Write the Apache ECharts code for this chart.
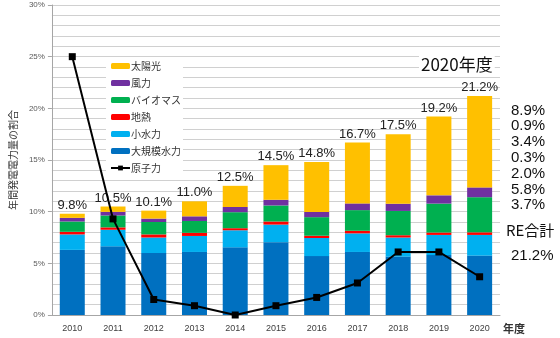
<!DOCTYPE html>
<html>
<head>
<meta charset="utf-8">
<script src="https://cdn.jsdelivr.net/npm/echarts@6/dist/echarts.min.js"></script>
<style>html,body{margin:0;padding:0;background:#fff;}#c{width:560px;height:338px;}</style>
</head>
<body>
<div id="c"></div>
<script>
const years = ['2010','2011','2012','2013','2014','2015','2016','2017','2018','2019','2020'];
const largeHydro = [6.3, 6.65, 6.0, 6.1, 6.55, 7.05, 5.7, 6.1, 5.65, 5.8, 5.75];
const smallHydro = [1.5, 1.6, 1.5, 1.55, 1.65, 1.7, 1.75, 1.8, 1.85, 1.95, 2.0];
const geothermal = [0.25, 0.23, 0.3, 0.3, 0.2, 0.3, 0.22, 0.25, 0.22, 0.23, 0.25];
const biomass = [1.0, 1.15, 1.2, 1.15, 1.55, 1.55, 1.8, 2.0, 2.35, 2.8, 3.4];
const wind = [0.35, 0.35, 0.33, 0.45, 0.5, 0.55, 0.5, 0.65, 0.7, 0.8, 0.95];
const solar = [0.4, 0.52, 0.77, 1.45, 2.05, 3.35, 4.83, 5.9, 6.73, 7.62, 8.85];
const nuclear = [25.0, 9.3, 1.5, 0.9, 0, 0.9, 1.7, 3.1, 6.1, 6.1, 3.7];
const totalLabels = ['9.8%','10.5%','10.1%','11.0%','12.5%','14.5%','14.8%','16.7%','17.5%','19.2%','21.2%'];
const shares2020 = ['8.9%','0.9%','3.4%','0.3%','2.0%','5.8%','3.7%'];
const reTotal2020 = '21.2%';

const FONT = "'Liberation Sans', 'Noto Sans CJK JP', sans-serif";
const JFONT = "'Noto Sans CJK JP', 'Liberation Sans', sans-serif";

const chart = echarts.init(document.getElementById('c'), null, {renderer: 'canvas'});

function barSeries(name, data, color, extra) {
  return Object.assign({
    name: name, type: 'bar', stack: 're', data: data, barWidth: 25,
    itemStyle: {color: color}, emphasis: {disabled: true}
  }, extra || {});
}

const graphics = [];
graphics.push({
  type: 'text', left: 419, top: 55, z: 10,
  style: {text: '2020年度', font: '17px ' + JFONT, fill: '#111', backgroundColor: '#fff', padding: [1, 2, 1, 2]}
});
shares2020.forEach(function (s, i) {
  graphics.push({
    type: 'text', left: 511, top: 103 + i * 15.8, z: 10,
    style: {text: s, font: '15px ' + FONT, fill: '#111'}
  });
});
graphics.push({type: 'text', left: 506, top: 223, z: 10, style: {text: 'RE合計', font: '15px ' + JFONT, fill: '#111'}});
graphics.push({type: 'text', left: 511, top: 248, z: 10, style: {text: reTotal2020, font: '15px ' + FONT, fill: '#111'}});
graphics.push({type: 'text', left: 503, top: 323, z: 10, style: {text: '年度', font: 'bold 11px ' + JFONT, fill: '#333'}});

chart.setOption({
  animation: false,
  grid: {left: 44, right: 60, top: 5, bottom: 23, containLabel: false},
  legend: {
    orient: 'vertical', left: 106, top: 58,
    data: ['太陽光','風力','バイオマス','地熱','小水力','大規模水力','原子力'],
    itemWidth: 19, itemHeight: 6, itemGap: 5,
    backgroundColor: '#fff', padding: [2, 2, 4, 4],
    textStyle: {fontFamily: JFONT, fontSize: 10, color: '#333', lineHeight: 12, padding: [0, 0, 0, -4]},
    selectedMode: false
  },
  xAxis: {
    type: 'category', data: years,
    axisLine: {lineStyle: {color: '#a6a6a6'}},
    axisTick: {show: false},
    axisLabel: {fontFamily: FONT, fontSize: 9, color: '#404040', margin: 9}
  },
  yAxis: {
    type: 'value', min: 0, max: 30, interval: 5,
    name: '年間発電電力量の割合', nameLocation: 'middle', nameGap: 27, nameRotate: 90,
    nameTextStyle: {fontFamily: JFONT, fontSize: 10, color: '#333'},
    axisLine: {show: true, lineStyle: {color: '#a6a6a6'}},
    axisTick: {show: true, length: 4, lineStyle: {color: '#a6a6a6'}},
    axisLabel: {formatter: '{value}%', fontFamily: FONT, fontSize: 8, color: '#595959', margin: 7},
    splitLine: {lineStyle: {color: '#d0d0d0'}},
    minorTick: {show: false, splitNumber: 5},
    minorSplitLine: {show: true, lineStyle: {color: '#d0d0d0'}}
  },
  graphic: graphics,
  series: [
    barSeries('大規模水力', largeHydro, '#0070C0'),
    barSeries('小水力', smallHydro, '#00B0F0'),
    barSeries('地熱', geothermal, '#FF0000'),
    barSeries('バイオマス', biomass, '#00B050'),
    barSeries('風力', wind, '#7030A0'),
    barSeries('太陽光', solar, '#FFC000', {
      label: {
        show: true, position: 'top', distance: 2,
        fontFamily: FONT, fontSize: 13, color: '#222',
        formatter: function (p) { return totalLabels[p.dataIndex]; }
      }
    }),
    {
      name: '原子力', type: 'line', data: nuclear, z: 5,
      symbol: 'rect', symbolSize: 7,
      lineStyle: {color: '#000', width: 2},
      itemStyle: {color: '#000'},
      emphasis: {disabled: true}
    }
  ]
});
</script>
</body>
</html>
